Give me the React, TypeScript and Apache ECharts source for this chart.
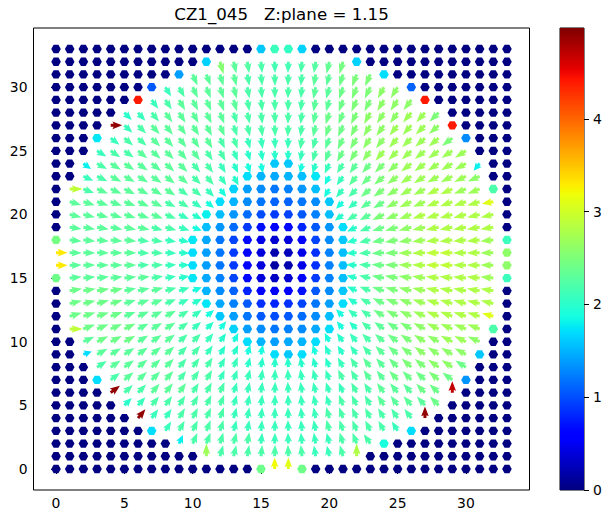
import React, { useEffect, useRef } from "react";
import * as echarts from "echarts";

const _ = null;
const chartTitle = "CZ1_045   Z:plane = 1.15";
const xTicks = [0, 5, 10, 15, 20, 25, 30];
const yTicks = [0, 5, 10, 15, 20, 25, 30];
const colorTicks = [0, 1, 2, 3, 4];
const colorMax = 4.98;

// rows run from y = 33 (first) to y = 0 (last), each from x = 0 to x = 33
const magnitudeRows: number[][] = [
  [0,0,0,0,0,0,0,0,0,0,0,0,0,0,0,1.6,2.1,2.05,1.65,0,0,0,0,0,0,0,0,0,0,0,0,0,0,0],
  [0,0,0,0,0,0,0,0,0,0,0,1.65,2.55,2.3,2.25,2.2,2.15,2.15,2.2,2.25,2.35,2.45,1.65,0,0,0,0,0,0,0,0,0,0,0],
  [0,0,0,0,0,0,0,0,0,1.4,2.3,2.3,2.3,2.3,2.2,2.2,2.2,2.2,2.2,2.3,2.3,2.4,2.5,2.5,1.7,0,0,0,0,0,0,0,0,0],
  [0,0,0,0,0,0,0,1.05,2.1,2.2,2.3,2.3,2.3,2.3,2.2,2.2,2.2,2.2,2.2,2.3,2.3,2.4,2.5,2.5,2.6,2.6,1.1,0,0,0,0,0,0,0],
  [0,0,0,0,0,0,4.4,2.1,2.2,2.3,2.3,2.3,2.3,2.3,2.2,2.2,2.2,2.2,2.2,2.3,2.3,2.4,2.5,2.5,2.6,2.6,2.6,4.4,0,0,0,0,0,0],
  [0,0,0,0,0,2.0,2.1,2.2,2.3,2.3,2.3,2.3,2.3,2.2,2.2,2.2,2.2,2.2,2.2,2.3,2.4,2.4,2.5,2.6,2.6,2.6,2.7,2.7,2.5,0,0,0,0,0],
  [0,0,0,0,4.9,2.1,2.2,2.3,2.3,2.3,2.3,2.3,2.3,2.2,2.2,2.2,2.2,2.2,2.2,2.3,2.4,2.4,2.5,2.6,2.6,2.7,2.7,2.7,2.6,4.4,0,0,0,0],
  [0,0,0,1.75,2.1,2.2,2.2,2.3,2.3,2.3,2.3,2.3,2.2,2.2,2.1,2.1,2.1,2.1,2.2,2.2,2.3,2.4,2.5,2.6,2.6,2.7,2.7,2.7,2.7,2.5,1.3,0,0,0],
  [0,0,0,2.1,2.2,2.2,2.3,2.3,2.3,2.3,2.3,2.2,2.2,2.1,2.0,2.0,2.0,2.0,2.1,2.2,2.3,2.4,2.5,2.6,2.7,2.7,2.7,2.7,2.7,2.7,2.7,0,0,0],
  [0,0,1.8,2.2,2.3,2.3,2.3,2.3,2.3,2.3,2.2,2.2,2.1,2.0,1.9,1.9,1.6,1.6,1.9,2.0,2.1,2.2,2.3,2.4,2.5,2.6,2.7,2.7,2.7,2.7,2.7,1.8,0,0],
  [0,0,2.1,2.2,2.3,2.3,2.3,2.3,2.3,2.3,2.2,2.2,2.1,2.0,1.7,1.5,1.45,1.5,1.55,1.75,1.9,2.1,2.3,2.4,2.5,2.6,2.7,2.7,2.7,2.7,2.7,2.6,0,0],
  [0,2.9,2.2,2.3,2.3,2.3,2.3,2.3,2.3,2.2,2.2,2.1,1.9,1.65,1.4,1.3,1.2,1.25,1.35,1.55,1.9,2.1,2.2,2.4,2.5,2.6,2.7,2.7,2.8,2.8,2.7,2.7,2.2,0],
  [0,2.3,2.3,2.3,2.3,2.3,2.3,2.3,2.2,2.2,2.1,1.9,1.7,1.5,1.3,1.2,1.1,1.1,1.2,1.3,1.6,1.9,2.1,2.3,2.4,2.6,2.7,2.7,2.8,2.8,2.8,2.8,3.1,0],
  [0,2.3,2.3,2.3,2.3,2.3,2.3,2.3,2.2,2.1,2.0,1.8,1.55,1.35,1.15,1.0,0.9,0.95,1.05,1.25,1.55,2.0,2.2,2.3,2.5,2.6,2.7,2.8,2.8,2.8,2.8,2.8,2.8,0],
  [0,2.3,2.3,2.3,2.3,2.3,2.3,2.2,2.2,2.1,1.9,1.55,1.35,1.15,0.9,0.7,0.6,0.65,0.8,1.05,1.35,1.7,2.0,2.2,2.4,2.5,2.6,2.7,2.8,2.8,2.8,2.8,2.8,0],
  [2.45,2.3,2.3,2.3,2.3,2.3,2.2,2.2,2.1,2.0,1.75,1.45,1.2,0.95,0.65,0.45,0.35,0.4,0.6,0.95,1.3,1.6,2.0,2.2,2.4,2.5,2.6,2.7,2.8,2.8,2.8,2.8,2.7,2.1],
  [3.3,2.3,2.3,2.3,2.3,2.3,2.2,2.2,2.1,2.0,1.7,1.4,1.2,0.9,0.6,0.4,0.2,0.25,0.45,0.85,1.25,1.55,2.0,2.2,2.4,2.5,2.7,2.8,2.9,2.9,2.8,2.8,2.7,2.6],
  [3.3,2.3,2.3,2.3,2.3,2.3,2.2,2.2,2.1,2.0,1.7,1.4,1.2,0.9,0.6,0.4,0.15,0.2,0.45,0.85,1.25,1.55,2.0,2.2,2.4,2.5,2.7,2.8,2.9,2.9,2.8,2.8,2.7,2.6],
  [2.4,2.3,2.3,2.3,2.3,2.3,2.3,2.2,2.1,2.0,1.75,1.45,1.25,0.95,0.65,0.4,0.3,0.35,0.55,0.9,1.25,1.55,2.0,2.2,2.4,2.5,2.6,2.7,2.8,2.8,2.8,2.8,2.7,2.1],
  [0,2.4,2.4,2.4,2.4,2.3,2.3,2.3,2.2,2.1,1.9,1.5,1.3,1.1,0.8,0.55,0.5,0.55,0.7,1.05,1.3,1.6,2.0,2.2,2.4,2.5,2.6,2.7,2.8,2.8,2.8,2.8,2.8,0],
  [0,2.4,2.4,2.4,2.4,2.3,2.3,2.3,2.2,2.1,2.0,1.75,1.45,1.25,1.05,0.85,0.8,0.85,0.95,1.2,1.4,1.7,2.0,2.2,2.4,2.5,2.6,2.7,2.8,2.8,2.8,2.8,2.8,0],
  [0,2.4,2.4,2.4,2.4,2.3,2.3,2.3,2.3,2.2,2.1,1.9,1.6,1.4,1.2,1.05,1.0,1.05,1.15,1.3,1.55,1.9,2.1,2.2,2.4,2.5,2.6,2.7,2.8,2.8,2.8,2.8,3.1,0],
  [0,2.9,2.4,2.4,2.4,2.4,2.3,2.3,2.3,2.2,2.1,2.0,1.9,1.65,1.4,1.3,1.2,1.25,1.3,1.45,1.7,1.9,2.0,2.2,2.3,2.4,2.5,2.6,2.7,2.7,2.7,2.7,2.2,0],
  [0,0,2.3,2.4,2.4,2.4,2.3,2.3,2.3,2.2,2.2,2.1,2.0,1.9,1.7,1.5,1.4,1.45,1.5,1.7,1.9,2.0,2.1,2.2,2.3,2.4,2.5,2.6,2.6,2.7,2.7,2.6,0,0],
  [0,0,1.7,2.3,2.3,2.3,2.3,2.3,2.3,2.2,2.2,2.1,2.0,2.0,1.9,1.9,1.7,1.6,1.7,1.9,2.0,2.0,2.1,2.2,2.3,2.4,2.5,2.6,2.6,2.6,2.6,1.6,0,0],
  [0,0,0,2.2,2.3,2.3,2.3,2.3,2.3,2.2,2.2,2.2,2.1,2.1,2.0,2.0,2.0,2.0,2.0,2.0,2.0,2.1,2.2,2.3,2.3,2.4,2.5,2.5,2.6,2.6,2.4,0,0,0],
  [0,0,0,1.7,2.2,2.3,2.3,2.3,2.3,2.2,2.2,2.2,2.1,2.1,2.1,2.1,2.1,2.1,2.1,2.1,2.1,2.2,2.2,2.3,2.3,2.4,2.4,2.4,2.5,2.4,1.35,0,0,0],
  [0,0,0,0,4.9,2.2,2.2,2.3,2.3,2.3,2.2,2.2,2.2,2.1,2.1,2.1,2.1,2.1,2.1,2.1,2.1,2.1,2.2,2.2,2.3,2.3,2.3,2.4,2.4,4.7,0,0,0,0],
  [0,0,0,0,0,2.0,2.1,2.2,2.2,2.2,2.2,2.2,2.2,2.1,2.1,2.1,2.1,2.1,2.1,2.1,2.1,2.2,2.2,2.2,2.3,2.3,2.3,2.3,2.4,0,0,0,0,0],
  [0,0,0,0,0,0,4.9,2.1,2.1,2.2,2.2,2.2,2.2,2.1,2.1,2.1,2.1,2.1,2.1,2.1,2.2,2.2,2.2,2.2,2.2,2.2,2.2,4.9,0,0,0,0,0,0],
  [0,0,0,0,0,0,0,1.7,2.1,2.2,2.2,2.2,2.2,2.1,2.1,2.1,2.1,2.1,2.1,2.1,2.2,2.2,2.2,2.2,2.2,2.1,1.7,0,0,0,0,0,0,0],
  [0,0,0,0,0,0,0,0,0,1.8,2.2,2.2,2.2,2.2,2.2,2.1,2.1,2.1,2.1,2.1,2.1,2.2,2.2,2.2,1.9,0,0,0,0,0,0,0,0,0],
  [0,0,0,0,0,0,0,0,0,0,0,2.7,2.2,2.2,2.2,2.2,2.2,2.2,2.2,2.1,2.1,2.2,2.8,0,0,0,0,0,0,0,0,0,0,0],
  [0,0,0,0,0,0,0,0,0,0,0,0,0,0,0,2.4,3.2,3.1,2.4,0,0,0,0,0,0,0,0,0,0,0,0,0,0,0],
];

// arrow direction in degrees (0 = right, 90 = up); _ marks a cell with no in-plane arrow
const angleRows: (number | null)[][] = [
  [_,_,_,_,_,_,_,_,_,_,_,_,_,_,_,_,_,_,_,_,_,_,_,_,_,_,_,_,_,_,_,_,_,_],
  [_,_,_,_,_,_,_,_,_,_,_,_,-74,-77,-81,-84,-88,-92,-96,-99,-103,-106,_,_,_,_,_,_,_,_,_,_,_,_],
  [_,_,_,_,_,_,_,_,_,_,-66,-69,-73,-76,-80,-84,-88,-92,-96,-100,-104,-107,-111,-114,_,_,_,_,_,_,_,_,_,_],
  [_,_,_,_,_,_,_,_,-58,-61,-64,-68,-72,-75,-79,-84,-88,-92,-96,-101,-105,-108,-112,-116,-119,-122,_,_,_,_,_,_,_,_],
  [_,_,_,_,_,_,_,-53,-56,-59,-63,-66,-70,-74,-79,-83,-88,-92,-97,-101,-106,-110,-114,-117,-121,-124,-127,_,_,_,_,_,_,_],
  [_,_,_,_,_,-45,-48,-50,-54,-57,-61,-64,-69,-73,-78,-83,-88,-92,-97,-102,-107,-111,-116,-119,-123,-126,-130,-132,-135,_,_,_,_,_],
  [_,_,_,_,0,-42,-45,-48,-51,-54,-58,-62,-67,-72,-77,-82,-87,-93,-98,-103,-108,-113,-118,-122,-126,-129,-132,-135,-138,_,_,_,_,_],
  [_,_,_,_,-37,-40,-42,-45,-48,-52,-56,-60,-65,-70,-75,-81,-87,-93,-99,-105,-110,-115,-120,-124,-128,-132,-135,-138,-140,-143,_,_,_,_],
  [_,_,_,-32,-34,-36,-39,-42,-45,-49,-53,-57,-62,-68,-74,-80,-87,-93,-100,-106,-112,-118,-123,-127,-131,-135,-138,-141,-144,-146,-148,_,_,_],
  [_,_,-36,-29,-31,-33,-36,-38,-41,-45,-49,-54,-59,-65,-72,-79,_,_,-101,-108,-115,-121,-126,-131,-135,-139,-142,-144,-147,-149,-151,-130,_,_],
  [_,_,-24,-26,-27,-29,-32,-34,-37,-41,-45,-50,-55,-62,_,_,_,_,_,_,-118,-125,-130,-135,-139,-143,-146,-148,-151,-153,-154,-156,_,_],
  [_,0,-21,-22,-24,-26,-28,-30,-33,-36,-40,-45,-51,_,_,_,_,_,_,_,-122,-129,-135,-140,-144,-147,-150,-152,-154,-156,-158,-159,_,_],
  [_,-16,-17,-18,-20,-21,-23,-25,-28,-31,-35,-39,_,_,_,_,_,_,_,_,_,-135,-141,-145,-149,-152,-155,-157,-159,-160,-162,-163,-170,_],
  [_,-13,-13,-15,-16,-17,-18,-20,-22,-25,-28,_,_,_,_,_,_,_,_,_,_,-142,-148,-152,-155,-158,-160,-162,-163,-164,-165,-167,-167,_],
  [_,-9,-10,-10,-11,-12,-13,-15,-16,-18,-21,_,_,_,_,_,_,_,_,_,_,_,-156,-159,-162,-164,-165,-167,-168,-169,-170,-170,-171,_],
  [_,-6,-6,-6,-7,-7,-8,-9,-10,-11,_,_,_,_,_,_,_,_,_,_,_,_,-165,-167,-169,-170,-171,-172,-173,-173,-174,-174,-174,_],
  [0,-2,-2,-2,-2,-2,-3,-3,-3,-4,_,_,_,_,_,_,_,_,_,_,_,_,-175,-176,-176,-177,-177,-177,-178,-178,-178,-178,-178,_],
  [0,2,2,2,2,2,3,3,3,4,_,_,_,_,_,_,_,_,_,_,_,_,175,176,176,177,177,177,178,178,178,178,178,_],
  [_,6,6,6,7,7,8,9,10,11,_,_,_,_,_,_,_,_,_,_,_,_,165,167,169,170,171,172,173,173,174,174,174,_],
  [_,9,10,10,11,12,13,15,16,18,21,_,_,_,_,_,_,_,_,_,_,_,156,159,162,164,165,167,168,169,170,170,171,_],
  [_,13,13,15,16,17,18,20,22,25,28,_,_,_,_,_,_,_,_,_,_,_,148,152,155,158,160,162,163,164,165,167,167,_],
  [_,16,17,18,20,21,23,25,28,31,35,39,_,_,_,_,_,_,_,_,_,135,141,145,149,152,155,157,159,160,162,163,165,_],
  [_,0,21,22,24,26,28,30,33,36,40,45,51,_,_,_,_,_,_,_,_,129,135,140,144,147,150,152,154,156,158,159,_,_],
  [_,_,24,26,27,29,32,34,37,41,45,50,55,62,_,_,_,_,_,_,118,125,130,135,139,143,146,148,151,153,154,156,_,_],
  [_,_,20,29,31,33,36,38,41,45,49,54,59,65,72,79,_,_,_,108,115,121,126,131,135,139,142,144,147,149,151,_,_,_],
  [_,_,_,32,34,36,39,42,45,49,53,57,62,68,74,80,87,93,100,106,112,118,123,127,131,135,138,141,144,146,148,_,_,_],
  [_,_,_,_,37,40,42,45,48,52,56,60,65,70,75,81,87,93,99,105,110,115,120,124,128,132,135,138,140,143,_,_,_,_],
  [_,_,_,_,37,42,45,48,51,54,58,62,67,72,77,82,87,93,98,103,108,113,118,122,126,129,132,135,138,90,_,_,_,_],
  [_,_,_,_,_,45,48,50,54,57,61,64,69,73,78,83,88,92,97,102,107,111,116,119,123,126,130,132,135,_,_,_,_,_],
  [_,_,_,_,_,_,50,53,56,59,63,66,70,74,79,83,88,92,97,101,106,110,114,117,121,124,127,90,_,_,_,_,_,_],
  [_,_,_,_,_,_,_,_,58,61,64,68,72,75,79,84,88,92,96,101,105,108,112,116,119,122,_,_,_,_,_,_,_,_],
  [_,_,_,_,_,_,_,_,_,65,66,69,73,76,80,84,88,92,96,100,104,107,111,125,_,_,_,_,_,_,_,_,_,_],
  [_,_,_,_,_,_,_,_,_,_,_,90,74,77,81,84,88,92,96,99,103,106,90,_,_,_,_,_,_,_,_,_,_,_],
  [_,_,_,_,_,_,_,_,_,_,_,_,_,_,_,_,90,90,_,_,_,_,_,_,_,_,_,_,_,_,_,_,_,_],
];

function ramp(t: number, a: number, b: number, from: number, to: number) {
  return from + ((t - a) / (b - a)) * (to - from);
}
function jet(t0: number) {
  const t = Math.max(0, Math.min(1, t0));
  const r = t < 0.35 ? 0 : t < 0.66 ? ramp(t, 0.35, 0.66, 0, 1) : t < 0.89 ? 1 : ramp(t, 0.89, 1, 1, 0.5);
  const g = t < 0.125 ? 0 : t < 0.375 ? ramp(t, 0.125, 0.375, 0, 1) : t < 0.64 ? 1 : t < 0.91 ? ramp(t, 0.64, 0.91, 1, 0) : 0;
  const b = t < 0.11 ? ramp(t, 0, 0.11, 0.5, 1) : t < 0.34 ? 1 : t < 0.65 ? ramp(t, 0.34, 0.65, 1, 0) : 0;
  return `rgb(${Math.round(r * 255)},${Math.round(g * 255)},${Math.round(b * 255)})`;
}

type Cell = { x: number; y: number; c: number; angle: number | null };
const cells: Cell[] = [];
magnitudeRows.forEach((row, r) => {
  row.forEach((c, x) => {
    cells.push({ x, y: 33 - r, c, angle: angleRows[r][x] });
  });
});

const DOT_RADIUS = 4.8;

function renderCell(params: any, api: any) {
  const cell = cells[params.dataIndex];
  const [px, py] = api.coord([cell.x, cell.y]);
  const fill = jet(cell.c / colorMax);
  let pts: number[][];
  if (cell.angle === null) {
    pts = [0, 60, 120, 180, 240, 300].map((d) => [
      px + DOT_RADIUS * Math.cos((d * Math.PI) / 180),
      py + DOT_RADIUS * Math.sin((d * Math.PI) / 180),
    ]);
  } else {
    const L = cell.c > 3 ? 11.5 : Math.min(13, cell.c * 5.2);
    const head = L * 0.85;
    const notch = head * 0.88;
    const hw = 3.8;
    const sw = 1.5;
    const a = (cell.angle * Math.PI) / 180;
    const ux = Math.cos(a);
    const uy = -Math.sin(a);
    const vx = -uy;
    const vy = ux;
    const at = (s: number, w: number) => [px + ux * s + vx * w, py + uy * s + vy * w];
    pts = [
      at(0, sw),
      at(L - notch, sw),
      at(L - head, hw),
      at(L, 0),
      at(L - head, -hw),
      at(L - notch, -sw),
      at(0, -sw),
    ];
  }
  return { type: "polygon", silent: true, shape: { points: pts }, style: { fill } };
}

const stops = Array.from({ length: 101 }, (_v, i) => ({
  offset: i / 100,
  color: jet(1 - i / 100),
}));

export default function App() {
  const ref = useRef<HTMLDivElement>(null);
  useEffect(() => {
    const chart = echarts.init(ref.current!, undefined, { renderer: "svg" });
    const font = "DejaVu Sans";
    chart.setOption({
      animation: false,
      backgroundColor: "#fff",
      title: {
        text: chartTitle,
        left: 276.5,
        top: 1,
        textAlign: "center",
        textStyle: { fontFamily: font, fontSize: 16.67, fontWeight: "normal", color: "#000" },
      },
      grid: [
        { left: 33.5, top: 28, width: 496, height: 462, show: true, borderColor: "#000", borderWidth: 1, backgroundColor: "#fff" },
        { left: 560, top: 28, width: 24, height: 462, show: true, borderColor: "#000", borderWidth: 1, backgroundColor: "transparent" },
      ],
      xAxis: [
        {
          type: "value", gridIndex: 0, min: -1.65, max: 34.65,
          splitLine: { show: false }, axisLine: { show: false },
          axisTick: { show: true, length: 5, customValues: xTicks, lineStyle: { color: "#000" } },
          axisLabel: { customValues: xTicks, margin: 6, fontFamily: font, fontSize: 13.9, color: "#000" },
        },
        { type: "category", gridIndex: 1, data: ["c"], show: false },
      ],
      yAxis: [
        {
          type: "value", gridIndex: 0, min: -1.65, max: 34.65,
          splitLine: { show: false }, axisLine: { show: false },
          axisTick: { show: true, length: 5, customValues: yTicks, lineStyle: { color: "#000" } },
          axisLabel: { customValues: yTicks, margin: 6, fontFamily: font, fontSize: 13.9, color: "#000" },
        },
        {
          type: "value", gridIndex: 1, min: 0, max: colorMax, position: "right",
          splitLine: { show: false }, axisLine: { show: false },
          axisTick: { show: true, length: 5, customValues: colorTicks, lineStyle: { color: "#000" } },
          axisLabel: { customValues: colorTicks, margin: 9, fontFamily: font, fontSize: 13.9, color: "#000" },
        },
      ],
      series: [
        {
          type: "custom",
          xAxisIndex: 0,
          yAxisIndex: 0,
          silent: true,
          clip: false,
          encode: { x: 0, y: 1 },
          data: cells.map((c) => [c.x, c.y, c.c]),
          renderItem: renderCell,
        },
        {
          type: "bar",
          xAxisIndex: 1,
          yAxisIndex: 1,
          silent: true,
          barWidth: "100%",
          data: [colorMax],
          itemStyle: { color: new echarts.graphic.LinearGradient(0, 0, 0, 1, stops) },
        },
      ],
    });
    return () => chart.dispose();
  }, []);
  return <div ref={ref} style={{ position: "fixed", left: 0, top: 0, width: 609, height: 519 }} />;
}
